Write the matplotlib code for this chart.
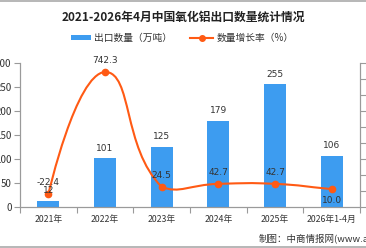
import matplotlib
matplotlib.use("Agg")
import matplotlib.pyplot as plt
import numpy as np
from matplotlib.path import Path
from matplotlib.patches import PathPatch, Rectangle
from matplotlib.lines import Line2D

plt.rcParams['font.family'] = ['Noto Sans CJK SC', 'DejaVu Sans']

categories = ["2021年", "2022年", "2023年", "2024年", "2025年", "2026年1-4月"]
export_volume = [12, 101, 125, 179, 255, 106]
growth_rate = [-22.4, 742.3, 24.5, 42.7, 42.7, 10.0]
growth_labels = ["-22.4", "742.3", "24.5", "42.7", "42.7", "10.0"]
label_below = [False, False, False, False, False, True]
legend_labels = ["出口数量（万吨）", "数量增长率（%）"]

BAR_C = "#3d9cf0"
LINE_C = "#ff5a14"
AX_C = "#9a9a9a"
TXT_C = "#333333"

W, H = 366, 248
fig = plt.figure(figsize=(W/100, H/100), dpi=100)
ax = fig.add_axes([20/W, (H-206.7)/H, 340/W, 144/H])
ax2 = ax.twinx()

x = np.arange(len(categories))
ax.bar(x, export_volume, width=0.39, color=BAR_C, zorder=2)
ax.set_xlim(-0.5, len(categories) - 0.5)
ax.set_ylim(0, 300)
ax.set_yticks(np.arange(0, 301, 50))
ax.set_xticks(x)
ax.set_xticklabels(categories, fontsize=6.3, color=TXT_C)
ax.set_xticks(np.arange(-0.5, len(categories), 1), minor=True)
ax.tick_params(axis='x', which='major', length=0, pad=6)
ax.tick_params(axis='x', which='minor', length=4, color=AX_C, width=0.8)
ax.tick_params(axis='y', length=4, color=AX_C, width=0.8, labelsize=7, labelcolor=TXT_C, pad=2)
for a in (ax, ax2):
    a.spines['top'].set_visible(False)
    for s in ['left', 'bottom', 'right']:
        a.spines[s].set_color(AX_C)
        a.spines[s].set_linewidth(0.8)

ax2.set_ylim(-100, 800)
ax2.set_yticks(np.arange(-100, 801, 100))
ax2.tick_params(axis='y', length=4, color=AX_C, width=0.8, labelright=False)

# smooth line (echarts-style bezier with bounding-box constraint), display space
fig.canvas.draw()
pts = ax2.transData.transform(np.column_stack([x, growth_rate]))
pmin = pts.min(axis=0)
pmax = pts.max(axis=0)
smooth = 0.5
n = len(pts)
verts = [tuple(pts[0])]
codes = [Path.MOVETO]
cp0 = pts[0].copy()
for i in range(1, n):
    p = pts[i]
    prev = pts[i-1]
    nxt = pts[i+1] if i + 1 < n else p
    v = nxt - prev
    lp = np.hypot(*(p - prev))
    ln = np.hypot(*(nxt - p))
    r = ln / (ln + lp) if (ln + lp) > 0 else 0.5
    cp1 = p - v * smooth * (1 - r)
    c0 = np.clip(cp0, pmin, pmax)
    c1 = np.clip(cp1, pmin, pmax)
    verts += [tuple(c0), tuple(c1), tuple(p)]
    codes += [Path.CURVE4] * 3
    cp0 = p + v * smooth * r
inv = ax2.transData.inverted()
dverts = inv.transform(np.array(verts))
path = Path(dverts, codes)
ax2.add_patch(PathPatch(path, facecolor='none', edgecolor=LINE_C, lw=1.5, zorder=3))
ax2.plot(x, growth_rate, 'o', color=LINE_C, ms=4.5, zorder=4)

for xi, v in zip(x, export_volume):
    ax2.annotate(str(v), (xi, v), xycoords=ax.transData, xytext=(0, 4), textcoords='offset points',
                 ha='center', va='bottom', fontsize=6.5, color=TXT_C,
                 family='DejaVu Sans', zorder=6)

for xi, v, lab, below in zip(x, growth_rate, growth_labels, label_below):
    if below:
        ax2.annotate(lab, (xi, v), xytext=(0, -5), textcoords='offset points',
                     ha='center', va='top', fontsize=6.5, color=TXT_C, family='DejaVu Sans', zorder=6)
    else:
        ax2.annotate(lab, (xi, v), xytext=(0, 5), textcoords='offset points',
                     ha='center', va='bottom', fontsize=6.5, color=TXT_C, family='DejaVu Sans', zorder=6)

fig.text(0.5, 1 - 17/H, "2021-2026年4月中国氧化铝出口数量统计情况", ha='center', va='center',
         fontsize=8.5, fontweight='bold', color='#222222')

# legend drawn manually at reference positions
ly = 1 - 37.5/H
fig.add_artist(Rectangle((71/W, 1 - 40/H), 20/W, 5/H, transform=fig.transFigure,
                         facecolor=BAR_C, edgecolor='none'))
fig.text(94/W, ly, legend_labels[0], ha='left', va='center', fontsize=7, color=TXT_C)
fig.add_artist(Line2D([190/W, 213/W], [ly, ly], transform=fig.transFigure, color=LINE_C, lw=1.5))
fig.add_artist(Line2D([201.5/W], [ly], transform=fig.transFigure, color=LINE_C, marker='o', ms=4))
fig.text(217/W, ly, legend_labels[1], ha='left', va='center', fontsize=7, color=TXT_C)

fig.text(259/W, 1 - 238/H, "制图：中商情报网(www.askci.com)", ha='left', va='center',
         fontsize=6.8, color=TXT_C)

fig.add_artist(Line2D([0, 1], [1 - 0.5/H, 1 - 0.5/H], transform=fig.transFigure, color='#aaaaaa', lw=1.2))
fig.add_artist(Line2D([0, 1], [1 - 246.5/H, 1 - 246.5/H], transform=fig.transFigure, color='#aaaaaa', lw=1.2))

fig.savefig("out.png", dpi=100)
